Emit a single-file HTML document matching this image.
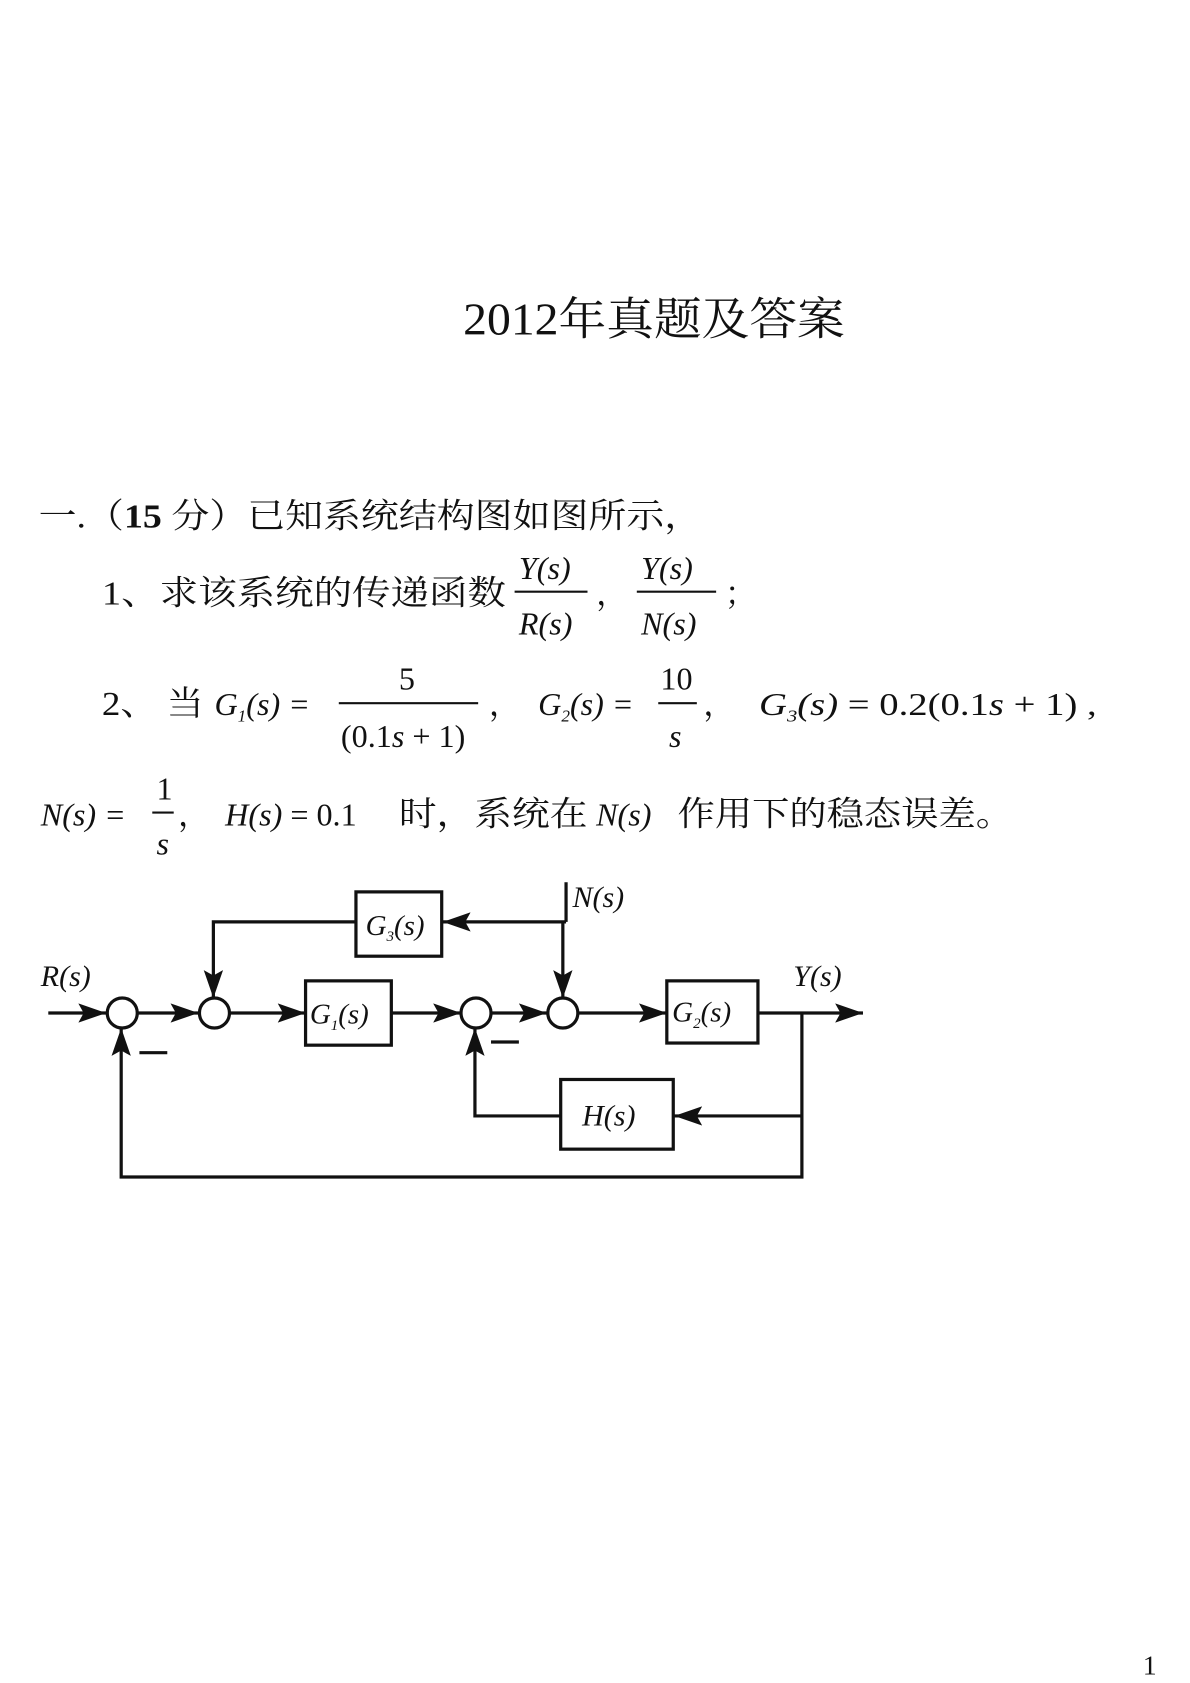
<!DOCTYPE html>
<html><head><meta charset="utf-8"><style>
html,body{margin:0;padding:0;background:#fff;width:1190px;height:1683px;overflow:hidden}
svg{display:block}
text{fill:#111}
.cn{font-family:"Liberation Serif","Noto Serif CJK SC",serif}
.m{font-family:"Liberation Serif",serif;font-style:italic}
.r{font-family:"Liberation Serif",serif}
</style></head><body>
<svg width="1190" height="1683" viewBox="0 0 1110 1570" xmlns="http://www.w3.org/2000/svg">
<defs>
<marker id="b" markerWidth="26" markerHeight="18" refX="26" refY="9" orient="auto" markerUnits="userSpaceOnUse"><path d="M0,0 L26,9 L0,18 L5,9 z" fill="#111"/></marker></defs>
<text class="cn" x="432" y="312" font-size="42" textLength="356" lengthAdjust="spacingAndGlyphs">2012年真题及答案</text>
<text class="cn" x="36" y="492" font-size="32" textLength="619" lengthAdjust="spacingAndGlyphs">一.（<tspan font-weight="bold">15</tspan> 分）已知系统结构图如图所示，</text>
<text class="cn" x="95" y="564" font-size="32" textLength="377" lengthAdjust="spacingAndGlyphs">1、求该系统的传递函数</text>
<text class="m" x="484" y="540" font-size="30">Y(s)</text><line x1="480" y1="552" x2="548" y2="552" stroke="#111" stroke-width="2"/><text class="m" x="484" y="592" font-size="30">R(s)</text>
<text class="cn" x="556" y="564" font-size="30">，</text>
<text class="m" x="598" y="540" font-size="30">Y(s)</text><line x1="594" y1="552" x2="668" y2="552" stroke="#111" stroke-width="2"/><text class="m" x="598" y="592" font-size="30">N(s)</text>
<text class="cn" x="676" y="564" font-size="30">；</text>
<text class="cn" x="95" y="667" font-size="32" textLength="95" lengthAdjust="spacingAndGlyphs">2、 当</text>
<text class="m" x="200" y="667" font-size="30">G<tspan font-size="16" dy="6">1</tspan><tspan dy="-6">(s) =</tspan></text>
<text class="r" x="372" y="643" font-size="30">5</text><line x1="316" y1="656" x2="446" y2="656" stroke="#111" stroke-width="2"/><text class="r" x="318" y="697" font-size="30">(0.1<tspan font-style="italic">s</tspan> + 1)</text>
<text class="cn" x="456" y="667" font-size="30">，</text>
<text class="m" x="502" y="667" font-size="30">G<tspan font-size="16" dy="6">2</tspan><tspan dy="-6">(s) =</tspan></text>
<text class="r" x="616" y="643" font-size="30">10</text><line x1="614" y1="656" x2="650" y2="656" stroke="#111" stroke-width="2"/><text class="m" x="624" y="697" font-size="30">s</text>
<text class="cn" x="656" y="667" font-size="30">，</text>
<text class="m" x="708" y="667" font-size="30" textLength="315" lengthAdjust="spacingAndGlyphs">G<tspan font-size="16" dy="6">3</tspan><tspan dy="-6">(s)</tspan><tspan font-style="normal"> = 0.2(0.1</tspan>s<tspan font-style="normal"> + 1) ,</tspan></text>
<text class="m" x="38" y="770" font-size="30">N(s) =</text>
<text class="r" x="146" y="746" font-size="30">1</text><line x1="142" y1="758" x2="162" y2="758" stroke="#111" stroke-width="2"/><text class="m" x="146" y="797" font-size="30">s</text>
<text class="cn" x="166" y="770" font-size="30">，</text>
<text class="m" x="210" y="770" font-size="30">H(s)<tspan font-style="normal"> = 0.1</tspan></text>
<text class="cn" x="372" y="770" font-size="32" textLength="176" lengthAdjust="spacingAndGlyphs">时，系统在</text>
<text class="m" x="556" y="770" font-size="30">N(s)</text>
<text class="cn" x="632" y="770" font-size="32" textLength="313" lengthAdjust="spacingAndGlyphs">作用下的稳态误差。</text>
<g stroke="#111" stroke-width="3" fill="none">
<line x1="45" y1="945" x2="99" y2="945" marker-end="url(#b)"/>
<circle cx="114" cy="945" r="14" fill="#fff"/>
<line x1="128" y1="945" x2="185" y2="945" marker-end="url(#b)"/>
<circle cx="200" cy="945" r="14" fill="#fff"/>
<line x1="214" y1="945" x2="285" y2="945" marker-end="url(#b)"/>
<rect x="285" y="915" width="80" height="60" fill="#fff"/>
<line x1="365" y1="945" x2="430" y2="945" marker-end="url(#b)"/>
<circle cx="444" cy="945" r="14" fill="#fff"/>
<line x1="458" y1="945" x2="510" y2="945" marker-end="url(#b)"/>
<circle cx="525" cy="945" r="14" fill="#fff"/>
<line x1="539" y1="945" x2="622" y2="945" marker-end="url(#b)"/>
<rect x="622" y="915" width="85" height="58" fill="#fff"/>
<line x1="707" y1="945" x2="805" y2="945" marker-end="url(#b)"/>
<line x1="528" y1="823" x2="528" y2="860"/>
<line x1="528" y1="860" x2="413" y2="860" marker-end="url(#b)"/>
<rect x="332" y="832" width="80" height="60" fill="#fff"/>
<polyline points="332,860 199,860 199,931" marker-end="url(#b)"/>
<line x1="525" y1="860" x2="525" y2="931" marker-end="url(#b)"/>
<polyline points="748,945 748,1098 113,1098 113,959" marker-end="url(#b)"/>
<line x1="748" y1="1041" x2="629" y2="1041" marker-end="url(#b)"/>
<rect x="523" y="1007" width="105" height="65" fill="#fff"/>
<polyline points="523,1041 443,1041 443,959" marker-end="url(#b)"/>
<line x1="130" y1="982" x2="156" y2="982"/>
<line x1="458" y1="972" x2="484" y2="972"/>
</g>
<text class="m" x="38" y="920" font-size="28">R(s)</text>
<text class="m" x="740" y="920" font-size="28">Y(s)</text>
<text class="m" x="534" y="846" font-size="28">N(s)</text>
<text class="m" x="341" y="872" font-size="27">G<tspan font-size="14" dy="6">3</tspan><tspan dy="-6">(s)</tspan></text>
<text class="m" x="289" y="955" font-size="27">G<tspan font-size="14" dy="6">1</tspan><tspan dy="-6">(s)</tspan></text>
<text class="m" x="627" y="953" font-size="27">G<tspan font-size="14" dy="6">2</tspan><tspan dy="-6">(s)</tspan></text>
<text class="m" x="543" y="1050" font-size="28">H(s)</text>
<text class="r" x="1066" y="1562" font-size="26">1</text>
</svg>
</body></html>
